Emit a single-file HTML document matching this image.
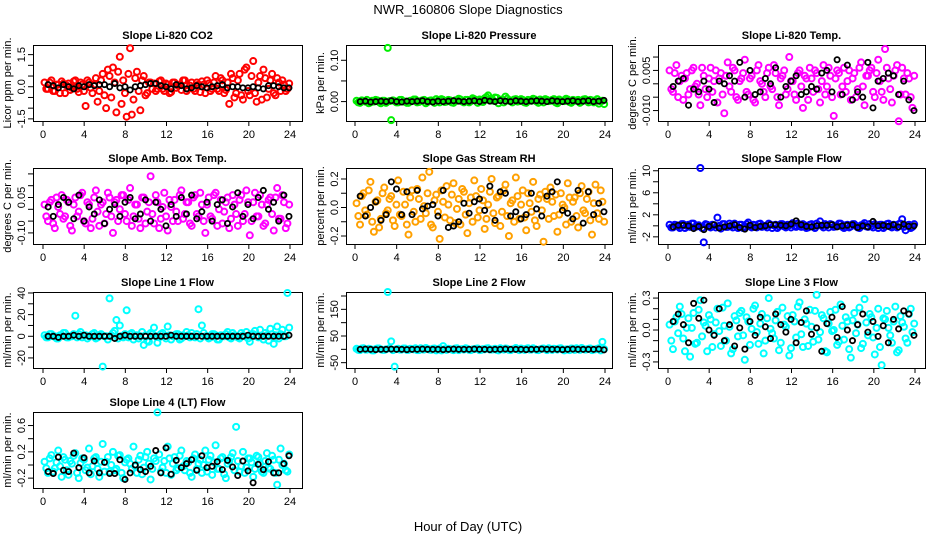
<!DOCTYPE html>
<html><head><meta charset="utf-8"><style>
html,body{margin:0;padding:0;background:#fff;}
svg{display:block;font-family:"Liberation Sans",sans-serif;}
</style></head><body>
<svg id="chart" width="936" height="540" viewBox="0 0 936 540" xmlns="http://www.w3.org/2000/svg">
<rect x="0" y="0" width="936" height="540" fill="#fff"/>
<text x="468" y="14" font-size="13" text-anchor="middle">NWR_160806  Slope Diagnostics</text>
<text x="468" y="531" font-size="13" text-anchor="middle">Hour of Day (UTC)</text>
</svg>
<script>
// ---- data ----
const xTicks = [0,4,8,12,16,20,24];
const co2Color = [0.2,-0.1,0.3,-0.2,0.1,0.25,-0.3,0.15,-0.05,0.3,-0.25,0.1,-0.9,0.2,-0.3,0.4,-0.2,0.6,-1.0,0.5,0.9,-1.2,1.4,0.3,-1.4,1.8,-0.6,0.7,-1.1,0.5,-0.3,0.2,0.15,-0.1,0.3,-0.2,0.1,-0.25,0.2,0.05,-0.15,0.3,-0.1,0.2,-0.2,0.1,0.25,-0.3,0.15,-0.1,0.5,-0.2,0.3,-0.15,-0.8,0.4,-0.3,0.6,-0.6,0.9,-0.4,1.2,-0.7,0.5,0.8,-0.5,0.3,-0.3,0.4,-0.2,0.1,-0.1];
const co2Color2 = [-0.1,0.2,-0.2,0.1,-0.3,0.15,0.05,-0.15,0.25,-0.1,0.2,-0.2,0.3,-0.05,0.1,-0.7,0.3,-0.4,0.8,-0.5,0.2,0.7,-0.8,-0.3,0.6,-1.3,0.4,-0.2,0.3,-0.4,0.2,-0.1,-0.2,0.25,-0.1,0.15,-0.3,0.2,-0.05,0.1,0.3,-0.2,0.05,-0.1,0.2,-0.25,0.1,0.3,-0.2,0.2,-0.1,0.4,-0.3,0.2,0.6,-0.5,0.3,-0.4,0.8,-0.2,0.5,-0.3,0.2,-0.6,0.4,-0.1,0.6,-0.4,0.2,0.3,-0.2,0.15];
const co2Black = [0.1,0.05,-0.05,0.1,0.0,-0.1,0.05,0.0,0.1,0.05,0.1,0.1,0.0,0.15,-0.05,0.0,-0.15,0.0,0.05,0.1,0.15,0.15,0.05,0.0,-0.1,0.1,0.05,-0.1,-0.05,0.05,0.0,-0.05,0.0,0.05,0.1,-0.05,0.0,0.0,-0.05,-0.05,0.0,-0.05,-0.1,0.05,0.05,0.0,-0.05,-0.05];
const presColor = [0.002,-0.003,0.001,0.004,-0.002,0.000,0.003,-0.004,0.002,0.130,-0.045,0.001,-0.002,0.004,0.000,-0.003,0.002,0.005,-0.001,0.003,-0.004,0.002,0.001,0.006,-0.002,0.004,0.000,0.003,-0.003,0.002,0.005,-0.002,0.004,0.001,0.006,-0.003,0.002,0.008,0.015,0.003,0.010,-0.004,0.005,0.012,0.002,-0.002,0.006,0.001,0.004,-0.003,0.003,0.007,0.000,0.005,-0.002,0.004,0.002,0.006,-0.004,0.003,0.001,0.005,-0.003,0.002,0.004,0.000,0.006,-0.002,0.003,0.001,-0.005,0.002];
const presColor2 = [-0.002,0.003,0.000,-0.004,0.002,0.004,-0.001,0.002,-0.003,0.001,0.003,-0.002,0.004,0.000,-0.003,0.002,0.005,-0.002,0.001,0.004,-0.001,0.003,-0.003,0.002,0.006,-0.001,0.004,-0.002,0.003,0.007,0.000,0.004,-0.002,0.008,0.003,0.005,-0.001,0.011,0.006,0.002,0.009,0.004,-0.002,0.007,0.003,0.005,0.000,0.006,-0.002,0.004,0.002,0.005,-0.003,0.003,0.006,0.001,0.004,-0.002,0.005,0.002,0.007,-0.001,0.004,0.003,-0.003,0.005,0.002,0.004,-0.002,0.006,0.001,-0.006];
const presBlack = [0.000,0.001,-0.001,0.000,0.001,0.000,0.002,0.000,-0.001,0.001,0.000,0.001,0.002,0.000,-0.001,0.001,0.000,0.001,0.002,0.001,0.000,0.001,0.002,0.000,0.003,0.001,0.000,0.002,0.001,0.000,0.002,0.001,0.000,0.001,0.002,0.001,0.000,0.002,0.001,0.000,0.001,0.002,0.000,0.001,0.002,0.000,0.001,0.003];
const tempColor = [0.005,-0.003,0.007,0.001,-0.006,0.004,-0.002,0.006,0.0,-0.008,0.003,-0.005,0.006,0.001,-0.007,0.004,-0.011,0.008,-0.003,0.005,-0.006,0.002,0.009,-0.004,0.003,-0.007,0.007,0.0,-0.005,0.006,-0.002,0.004,-0.008,0.003,-0.004,0.010,0.001,-0.006,0.005,-0.009,0.002,0.006,-0.003,0.004,-0.007,0.007,-0.001,0.003,-0.012,0.005,-0.004,0.006,0.001,-0.006,0.004,-0.002,0.008,-0.008,0.003,0.006,-0.005,0.009,-0.003,0.013,0.002,-0.007,0.005,-0.014,0.006,-0.004,0.002,-0.009];
const tempColor2 = [-0.002,0.004,-0.005,0.003,0.002,-0.004,0.005,-0.001,-0.004,0.006,-0.002,0.002,-0.003,0.005,0.002,-0.004,0.003,-0.001,0.006,-0.005,0.001,0.004,-0.003,0.002,-0.006,0.005,0.001,-0.003,0.004,-0.001,0.007,-0.005,0.002,0.005,-0.002,0.001,-0.004,0.004,-0.001,0.003,-0.006,0.002,0.005,-0.002,0.001,-0.004,0.006,-0.005,0.002,0.004,-0.001,-0.003,0.005,0.002,-0.005,0.006,-0.001,0.003,0.005,-0.003,0.004,0.001,-0.006,0.006,-0.002,0.003,0.007,-0.004,0.002,0.004,-0.005,0.003];
const tempBlack = [-0.001,0.001,0.002,-0.008,-0.002,-0.003,0.001,-0.002,-0.007,0.001,0.000,0.003,0.001,0.008,-0.005,0.005,-0.004,-0.003,0.002,0.000,0.006,-0.005,-0.001,0.001,0.003,-0.004,-0.003,-0.001,-0.002,0.004,0.005,-0.003,0.009,-0.004,0.007,-0.006,-0.003,-0.005,0.008,-0.009,0.001,0.002,0.004,0.003,-0.004,0.001,-0.006,-0.010];
const ambColor = [0.02,-0.05,0.04,-0.08,0.01,0.06,-0.03,0.03,-0.09,0.05,-0.01,0.07,-0.06,0.02,-0.04,0.08,-0.07,0.03,-0.02,0.05,-0.10,0.04,0.00,0.06,-0.05,0.09,-0.03,0.02,-0.08,0.05,-0.01,0.14,-0.06,0.03,-0.04,0.07,-0.09,0.01,0.04,-0.05,0.08,-0.02,0.03,-0.07,0.06,-0.03,0.02,-0.10,0.05,-0.04,0.07,0.00,-0.06,0.03,-0.08,0.06,-0.02,0.04,-0.05,0.08,-0.11,0.03,-0.03,0.06,-0.07,0.02,0.05,-0.09,0.09,-0.04,0.03,-0.06];
const ambColor2 = [-0.03,0.03,-0.06,0.05,-0.02,-0.04,0.04,-0.07,0.02,-0.03,0.06,-0.05,0.03,-0.08,0.05,-0.01,0.02,-0.06,0.07,-0.03,0.03,-0.05,0.06,-0.02,0.04,-0.07,0.02,-0.04,0.05,-0.06,0.03,-0.02,0.06,-0.08,0.01,-0.03,0.04,-0.05,-0.01,0.06,-0.04,0.03,-0.06,0.05,-0.02,0.07,-0.05,0.02,-0.03,0.06,-0.07,0.04,-0.01,0.05,-0.04,0.02,-0.07,0.06,-0.02,0.03,-0.05,0.07,-0.03,0.02,-0.06,0.04,-0.02,0.05,-0.04,0.06,-0.08,0.02];
const ambBlack = [0.01,-0.03,0.02,0.05,0.03,-0.04,0.06,-0.05,0.01,-0.02,0.04,-0.06,0.00,0.02,-0.03,0.03,0.05,-0.04,-0.02,0.04,-0.05,0.03,0.00,-0.07,0.02,-0.03,0.05,-0.02,0.06,-0.04,-0.01,0.03,-0.05,0.02,0.04,-0.06,0.01,0.07,-0.03,0.02,-0.04,0.05,0.08,0.00,0.03,-0.05,0.06,-0.03];
const rhColor = [0.03,-0.12,0.10,-0.05,0.18,-0.17,0.05,-0.08,0.14,-0.02,0.08,-0.13,0.19,-0.06,0.02,-0.19,0.12,-0.10,0.06,0.21,-0.04,0.25,-0.14,0.09,-0.22,0.04,0.15,-0.09,0.17,-0.01,-0.12,0.11,-0.18,0.07,0.19,-0.07,0.13,-0.15,0.02,0.20,-0.11,0.08,-0.03,0.16,-0.20,0.05,0.21,-0.08,0.12,-0.16,0.03,0.18,-0.13,0.09,-0.24,0.06,0.14,-0.06,-0.17,0.10,0.00,0.17,-0.10,0.07,-0.14,0.15,-0.04,0.11,-0.19,0.16,-0.08,0.04];
const rhColor2 = [-0.06,0.08,-0.02,0.12,-0.10,0.04,-0.14,0.10,-0.04,0.06,-0.09,0.02,-0.05,0.11,-0.12,0.07,-0.03,0.13,-0.08,0.01,0.10,-0.12,0.05,-0.03,0.12,-0.07,0.02,0.09,-0.11,0.06,0.13,-0.05,0.03,-0.10,0.08,-0.02,0.05,-0.08,0.11,-0.04,0.07,-0.13,0.12,-0.06,0.03,-0.10,0.08,0.02,-0.07,0.10,-0.03,-0.09,0.06,-0.02,0.11,-0.08,0.04,0.09,-0.05,0.02,-0.12,0.07,0.04,-0.06,0.10,-0.02,0.06,-0.09,0.03,-0.04,0.12,-0.10];
const rhBlack = [0.08,-0.06,0.00,0.04,-0.09,-0.05,0.18,0.13,-0.05,0.11,-0.05,0.12,-0.01,0.01,0.02,-0.06,0.12,-0.14,-0.13,-0.10,0.03,-0.04,0.04,0.06,-0.02,0.15,-0.09,0.11,0.10,-0.06,-0.03,-0.08,-0.05,0.10,-0.01,-0.06,0.08,0.11,0.18,-0.02,-0.04,-0.08,0.12,-0.11,0.11,-0.05,0.03,-0.03];
const sfColor = [0.2,-0.3,0.1,-0.4,0.3,0.0,-0.2,0.4,-0.1,10.5,-3.0,0.2,-0.3,0.1,1.5,-0.5,0.3,-0.2,0.0,0.4,-0.4,0.2,-0.1,0.6,-0.3,0.1,0.3,-0.2,0.0,0.4,-0.4,0.2,-0.1,0.3,-0.3,0.1,0.5,-0.2,0.0,0.3,-0.4,0.2,-0.1,0.4,0.8,-0.3,0.1,0.3,-0.2,0.0,0.4,-0.4,0.2,-0.1,0.3,-0.3,0.1,0.5,-0.2,0.0,0.3,-0.4,0.2,-0.1,0.4,-0.3,0.1,0.3,1.2,-0.8,0.2,-0.2];
const sfColor2 = [-0.3,0.2,-0.1,0.3,-0.4,0.2,0.4,-0.2,0.1,-0.4,0.3,-0.1,0.2,-0.3,0.0,0.3,-0.2,0.4,-0.3,0.1,0.2,-0.4,0.3,-0.1,0.2,-0.3,0.4,0.0,-0.3,0.2,0.1,-0.4,0.3,-0.1,0.2,-0.3,0.0,0.4,-0.2,0.1,-0.3,0.3,-0.4,0.1,0.0,0.3,-0.3,0.2,-0.1,0.4,-0.2,0.1,-0.3,0.3,0.0,-0.4,0.2,-0.1,0.3,-0.3,0.1,0.2,-0.4,0.3,-0.1,0.2,-0.3,0.4,-0.2,0.1,-0.4,0.3];
const sfBlack = [-0.2,0.1,0.1,0.0,-0.5,-0.1,-0.7,-0.1,0.2,-0.4,-0.2,0.0,0.2,-0.3,-0.6,0.1,-0.3,-0.1,0.0,0.2,0.2,0.1,0.0,0.3,0.9,0.2,-0.1,-0.2,0.0,0.1,0.1,0.2,-0.2,0.0,0.1,0.2,-0.3,0.0,-0.2,0.8,0.0,0.1,-0.1,0.2,-0.2,0.3,-0.1,0.0];
const l1Color = [1,-1,2,0,-2,1,3,-1,0,19,2,-1,1,0,2,-2,1,-28,0,35,3,15,10,-1,24,2,-3,1,0,-8,-4,3,8,-6,2,0,9,-3,1,2,-2,0,1,3,-1,25,10,0,-2,2,1,-3,0,2,-1,3,0,-2,1,4,-5,2,0,6,-3,1,7,-7,9,2,0,40];
const l1Color2 = [-1,2,0,-2,1,3,-1,0,2,-1,4,1,-2,0,3,-1,2,0,-3,1,5,-2,0,2,-1,3,0,-2,4,1,-5,2,0,-1,3,-2,1,0,2,-3,1,4,-1,0,2,-2,3,0,-1,2,-3,1,0,4,-2,1,-1,3,0,-2,2,5,-1,0,3,-4,2,1,-2,6,0,8];
const l1Black = [0,0,-1,0,0,1,0,1,0,0,0,0,0,-2,0,1,0,0,0,0,0,0,0,0,1,0,0,0,0,0,0,0,0,0,0,0,0,0,0,1,0,0,0,0,0,0,0,1];
const l2Color = [2,-3,4,-1,1,-4,3,0,-2,215,30,-65,2,-1,3,-2,1,4,-3,0,5,-1,2,-4,3,12,-2,1,-3,4,0,-1,2,-3,1,3,-2,0,4,-1,2,-4,1,3,-2,0,5,-3,1,2,-1,4,-2,0,3,-3,1,2,-1,4,-4,0,3,-2,1,5,-1,2,-3,0,4,28];
const l2Color2 = [-2,3,-1,2,-4,1,3,-2,0,4,-3,1,-1,3,-2,2,0,-3,4,-1,2,-2,3,0,-4,1,2,-1,3,-3,1,4,-2,0,2,-3,1,3,-1,0,-2,4,-1,2,-3,1,0,3,-2,4,-1,1,-3,2,0,4,-2,1,3,-1,0,-3,2,4,-2,1,0,3,-1,2,-4,1];
const l2Black = [0,1,0,-1,0,0,1,0,0,-1,0,0,1,0,0,0,-1,0,1,0,0,0,1,0,0,-1,0,0,1,0,0,0,-1,0,0,1,0,0,0,-1,0,1,0,0,0,0,1,-2];
const l3Color = [0.05,-0.18,0.12,0.22,-0.08,0.02,-0.25,0.16,-0.12,0.28,0.07,-0.20,0.10,-0.04,0.20,-0.15,0.04,0.25,-0.22,0.13,-0.06,0.18,-0.28,0.08,0.01,0.23,-0.13,0.15,-0.10,0.30,-0.03,0.09,-0.19,0.21,0.03,-0.24,0.14,-0.07,0.26,-0.16,0.06,0.19,-0.11,0.33,-0.02,0.11,-0.21,0.17,0.00,-0.14,0.24,-0.09,0.08,-0.26,0.16,0.05,-0.17,0.29,-0.05,0.12,-0.23,0.20,-0.33,0.10,0.02,-0.12,0.22,-0.19,0.07,-0.08,0.15,-0.02];
const l3Color2 = [-0.10,0.08,-0.03,0.15,-0.20,0.11,0.02,-0.13,0.19,-0.06,0.04,0.14,-0.16,0.07,-0.01,0.21,-0.10,0.03,-0.18,0.09,0.16,-0.05,0.12,-0.14,0.20,-0.02,0.06,-0.22,0.11,0.01,-0.08,0.17,-0.12,0.05,0.13,-0.17,0.08,0.22,-0.04,0.10,-0.15,0.03,0.18,-0.09,0.14,-0.20,0.06,-0.01,0.19,-0.11,0.04,0.12,-0.18,0.09,-0.03,0.21,-0.13,0.07,0.15,-0.07,0.02,-0.16,0.11,0.18,-0.05,0.08,-0.21,0.13,0.03,-0.12,0.20,0.06];
const l3Black = [0.08,0.15,0.05,-0.12,0.25,0.11,0.28,0.00,-0.05,0.20,-0.10,0.05,-0.15,0.02,-0.18,0.08,-0.05,0.12,0.03,-0.08,0.15,0.05,-0.02,0.10,-0.12,0.07,0.18,-0.04,0.02,-0.20,0.06,0.12,-0.07,0.22,0.00,-0.10,0.05,0.15,-0.02,0.08,-0.06,0.04,-0.12,0.10,0.01,0.18,0.15,-0.05];
const l4Color = [0.05,-0.12,0.15,-0.05,0.22,-0.18,0.08,-0.15,0.02,0.18,-0.20,0.10,-0.08,0.25,-0.02,0.12,-0.18,0.32,0.05,-0.10,0.20,-0.06,0.15,-0.20,0.08,0.02,0.28,-0.12,0.14,-0.04,0.20,-0.22,0.10,0.80,-0.10,0.06,0.28,-0.15,0.12,-0.05,0.22,-0.08,0.04,-0.18,0.16,0.02,-0.12,0.22,0.08,-0.15,0.30,-0.06,0.12,-0.20,0.06,0.18,0.58,-0.10,0.20,-0.04,0.10,-0.18,0.14,0.02,-0.12,0.18,-0.06,0.08,-0.30,0.25,0.02,-0.10];
const l4Color2 = [-0.05,0.10,-0.10,0.04,-0.02,0.12,-0.08,0.06,0.14,-0.12,0.03,0.08,-0.04,-0.14,0.10,-0.06,0.05,-0.10,0.12,0.00,-0.08,0.14,-0.12,0.04,0.10,-0.06,-0.02,0.08,-0.14,0.12,0.02,-0.06,0.06,0.16,-0.04,-0.12,0.10,0.02,-0.08,0.14,-0.02,0.06,-0.12,0.10,-0.06,0.08,0.00,-0.10,0.14,0.04,-0.06,0.10,-0.14,0.02,0.12,-0.08,0.06,-0.02,-0.12,0.10,0.04,-0.06,0.12,-0.10,0.06,-0.04,0.14,-0.12,0.08,0.00,-0.08,0.16];
const l4Black = [-0.10,-0.13,0.12,-0.08,-0.10,0.18,-0.04,0.11,-0.12,0.06,-0.12,0.04,-0.13,-0.13,0.08,-0.22,-0.12,0.00,-0.07,-0.10,-0.02,0.22,-0.12,0.26,-0.14,0.07,-0.04,0.02,0.08,-0.08,0.14,-0.04,-0.02,0.05,-0.07,0.07,-0.03,-0.16,0.06,-0.09,-0.27,0.01,-0.07,0.05,-0.12,-0.12,0.02,0.14];

// ---- layout ----
const cols=[{l:33,r:302,h0:43,h24:290},{l:346,r:612,h0:355,h24:605},{l:658,r:925,h0:668,h24:915}];
const rowTop=[45,168,292,412]; const boxH=76;
const panels=[
 {key:'co2',title:'Slope Li-820 CO2',ylab:'Licor ppm per min.',c:0,r:0,ymin:-1.6,ymax:1.95,ticks:[-1.5,-1,-0.5,0,0.5,1,1.5],labels:{'-1.5':'-1.5','0':'0.0','1.5':'1.5'},col:'#ff0000',cv:co2Color,cv2:co2Color2,bv:co2Black},
 {key:'pressure',title:'Slope Li-820 Pressure',ylab:'kPa per min.',c:1,r:0,ymin:-0.047,ymax:0.137,ticks:[0,0.05,0.1],labels:{'0':'0.00','0.1':'0.10'},col:'#00ee00',cv:presColor,cv2:presColor2,bv:presBlack},
 {key:'temp',title:'Slope Li-820 Temp.',ylab:'degrees C per min.',c:2,r:0,ymin:-0.0139,ymax:0.0145,ticks:[-0.01,-0.005,0,0.005,0.01],labels:{'-0.01':'-0.010','0.005':'0.005'},col:'#ff00ff',cv:tempColor,cv2:tempColor2,bv:tempBlack},
 {key:'amb-box',title:'Slope Amb. Box Temp.',ylab:'degrees C per min.',c:0,r:1,ymin:-0.147,ymax:0.175,ticks:[-0.1,-0.05,0,0.05,0.1,0.15],labels:{'-0.1':'-0.10','0.05':'0.05'},col:'#ff00ff',cv:ambColor,cv2:ambColor2,bv:ambBlack},
 {key:'rh',title:'Slope Gas Stream RH',ylab:'percent per min.',c:1,r:1,ymin:-0.256,ymax:0.277,ticks:[-0.2,-0.1,0,0.1,0.2],labels:{'-0.2':'-0.2','0':'0.0','0.2':'0.2'},col:'#ffa000',cv:rhColor,cv2:rhColor2,bv:rhBlack},
 {key:'sample-flow',title:'Slope Sample Flow',ylab:'ml/min per min.',c:2,r:1,ymin:-3.3,ymax:10.5,ticks:[-2,0,2,4,6,8,10],labels:{'-2':'-2','2':'2','6':'6','10':'10'},col:'#0000ff',cv:sfColor,cv2:sfColor2,bv:sfBlack},
 {key:'line1',title:'Slope Line 1 Flow',ylab:'ml/min per min.',c:0,r:2,ymin:-29.3,ymax:40.9,ticks:[-20,-10,0,10,20,30,40],labels:{'-20':'-20','0':'0','20':'20','40':'40'},col:'#00ffff',cv:l1Color,cv2:l1Color2,bv:l1Black},
 {key:'line2',title:'Slope Line 2 Flow',ylab:'ml/min per min.',c:1,r:2,ymin:-70,ymax:215,ticks:[-50,0,50,100,150,200],labels:{'-50':'-50','50':'50','150':'150'},col:'#00ffff',cv:l2Color,cv2:l2Color2,bv:l2Black},
 {key:'line3',title:'Slope Line 3 Flow',ylab:'ml/min per min.',c:2,r:2,ymin:-0.357,ymax:0.357,ticks:[-0.3,-0.2,-0.1,0,0.1,0.2,0.3],labels:{'-0.3':'-0.3','0':'0.0','0.3':'0.3'},col:'#00ffff',cv:l3Color,cv2:l3Color2,bv:l3Black},
 {key:'line4',title:'Slope Line 4 (LT) Flow',ylab:'ml/min per min.',c:0,r:3,ymin:-0.35,ymax:0.806,ticks:[-0.2,0,0.2,0.4,0.6],labels:{'-0.2':'-0.2','0.2':'0.2','0.6':'0.6'},col:'#00ffff',cv:l4Color,cv2:l4Color2,bv:l4Black}
];
const NS='http://www.w3.org/2000/svg';
const svg=document.getElementById('chart');
function mk(tag,attrs,parent){const e=document.createElementNS(NS,tag);for(const k in attrs)e.setAttribute(k,attrs[k]);parent.appendChild(e);return e;}
panels.forEach(p=>{
 const C=cols[p.c], top=rowTop[p.r], bot=top+boxH;
 const g=mk('g',{},svg);
 
 
 const xs=h=>C.h0+(C.h24-C.h0)*h/24;
 const ys=v=>bot-(v-p.ymin)/(p.ymax-p.ymin)*boxH;
 const t=mk('text',{x:(C.l+C.r)/2,y:top-6,'font-size':11,'font-weight':'bold','text-anchor':'middle'},g);
 t.textContent=p.title;
 
 
 const box=mk('rect',{x:C.l+0.5,y:top+0.5,width:C.r-C.l,height:boxH,fill:'none',stroke:'#000','stroke-width':1},g);
 
 
 const xa=mk('g',{},g);
 
 
 mk('line',{x1:xs(0),x2:xs(24),y1:bot+0.5,y2:bot+0.5,stroke:'#000'},xa);
 xTicks.forEach(h=>{
  mk('line',{x1:xs(h),x2:xs(h),y1:bot,y2:bot+5,stroke:'#000'},xa);
  const tl=mk('text',{x:xs(h),y:bot+17,'font-size':11,'text-anchor':'middle'},xa);
  tl.textContent=h;
 });
 const ya=mk('g',{},g);
 
 
 p.ticks.forEach(v=>{
  const y=ys(v);
  mk('line',{x1:C.l-5,x2:C.l,y1:y,y2:y,stroke:'#000'},ya);
  const lab=p.labels[String(v)];
  if(lab!==undefined){
   const tl=mk('text',{x:0,y:0,'font-size':11,'text-anchor':'middle',transform:`translate(${C.l-8},${y}) rotate(-90)`},ya);
   tl.textContent=lab;
  }
 });
 const yl=mk('text',{x:0,y:0,'font-size':11,'text-anchor':'middle',transform:`translate(${C.l-22},${(top+bot)/2}) rotate(-90)`},g);
 yl.textContent=p.ylab;
 
 
 const cg=mk('g',{},g);
 
 
 [p.cv,p.cv2].forEach((arr,k)=>{
  arr.forEach((v,i)=>{
   const h=0.15+k*0.17+i*(23.6/(arr.length-1));
   const c=mk('circle',{cx:xs(h),cy:ys(v),r:3,fill:'none',stroke:p.col,'stroke-width':2},cg);
   
   
  });
 });
 const bg=mk('g',{},g);
 
 
 p.bv.forEach((v,i)=>{
  const h=0.5+i*(23.4/(p.bv.length-1));
  const c=mk('circle',{cx:xs(h),cy:ys(v),r:2.6,fill:'none',stroke:'#000','stroke-width':1.8},bg);
  
  
 });
});
</script>
</body></html>
